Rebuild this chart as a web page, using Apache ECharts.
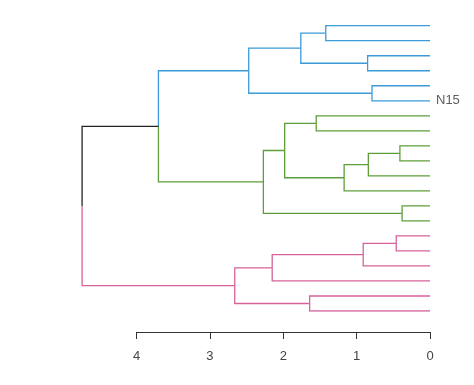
<!DOCTYPE html>
<html>
<head>
<meta charset="utf-8">
<script src="https://cdn.jsdelivr.net/npm/echarts@6/dist/echarts.min.js"></script>
<style>html,body{margin:0;padding:0;background:#fff}#c{width:474px;height:385px}</style>
</head>
<body>
<div id="c"></div>
<script>
// Leaf labels in display order (top to bottom)
var leafLabels = ["", "", "", "", "", "N15", "", "", "", "", "", "", "", "", "", "", "", "", "", ""];
// hclust-style merges: negative = leaf (1-based), positive = earlier merge row (1-based)
var mergeLeft  = [-13, -9, -15, -5, 2, -3, 3, 5, -1, -7, -19, 9, 10, 7, 13, 12, 14, 16, 18];
var mergeRight = [-14, -10, -16, -6, -11, -4, -17, -12, -2, -8, -20, 6, 8, -18, 1, 4, 11, 15, 17];
var mergeHeight = [0.38, 0.41, 0.46, 0.79, 0.84, 0.85, 0.91, 1.17, 1.42, 1.55, 1.64, 1.76, 1.98, 2.15, 2.27, 2.47, 2.66, 3.70, 4.74];
// cluster roots (merge rows) and their colours
var clusterRoots = [16, 15, 17];
var clusterColors = ["#3B9AD8", "#5E9E3A", "#D5629A"];
var axisTicks = [0, 1, 2, 3, 4];

var n = mergeHeight.length;
var pos = {};
function key(ref) { return ref < 0 ? "L" + (-ref) : "M" + ref; }
function info(ref) {
  if (ref < 0) return { x: 0, y: -ref - 1 };
  return pos["M" + ref];
}
for (var i = 0; i < n; i++) {
  var a = info(mergeLeft[i]), b = info(mergeRight[i]);
  pos["M" + (i + 1)] = { x: mergeHeight[i], y: (a.y + b.y) / 2 };
}
var colorOf = {};
function paint(ref, col) {
  colorOf[key(ref)] = col;
  if (ref > 0) { paint(mergeLeft[ref - 1], col); paint(mergeRight[ref - 1], col); }
}
clusterRoots.forEach(function (r, k) { paint(r, clusterColors[k]); });

var segs = [];
for (var i = 0; i < n; i++) {
  var p = pos["M" + (i + 1)];
  [mergeLeft[i], mergeRight[i]].forEach(function (c) {
    var ci = info(c);
    var col = colorOf[key(c)] || "#222222";
    segs.push({ coords: [[p.x, p.y], [p.x, ci.y], [ci.x, ci.y]], lineStyle: { color: col } });
  });
}
var leafPts = leafLabels.map(function (l, i) { return { value: [0, i], label: l }; });

var chart = echarts.init(document.getElementById('c'));
chart.setOption({
  animation: false,
  grid: [
    { left: 63, right: 44, top: 25.7, bottom: 74 },
    { left: 136.6, right: 44, top: 331, height: 1 }
  ],
  xAxis: [
    { gridIndex: 0, type: 'value', min: 0, max: 5, inverse: true, show: false },
    { gridIndex: 1, type: 'value', min: 0, max: 4, interval: 1, inverse: true, position: 'bottom',
      axisLine: { show: true, lineStyle: { color: '#333', width: 1 } },
      axisTick: { show: true, length: 7, lineStyle: { color: '#333', width: 1 } },
      axisLabel: { show: true, margin: 18, color: '#444', fontSize: 13, fontFamily: 'Liberation Sans, Arial, sans-serif',
        formatter: function (v) { return axisTicks.indexOf(v) >= 0 ? String(v) : ''; } },
      splitLine: { show: false } }
  ],
  yAxis: [
    { gridIndex: 0, type: 'value', min: 0, max: 19, inverse: true, show: false },
    { gridIndex: 1, type: 'value', min: 0, max: 1, show: false }
  ],
  series: [
    { type: 'lines', coordinateSystem: 'cartesian2d', xAxisIndex: 0, yAxisIndex: 0, polyline: true,
      lineStyle: { width: 1.3, opacity: 1 }, data: segs, silent: true },
    { type: 'scatter', xAxisIndex: 0, yAxisIndex: 0, symbolSize: 0, silent: true,
      data: leafPts,
      label: { show: true, position: 'right', distance: 6, color: '#333', fontSize: 13,
        fontFamily: 'Liberation Sans, Arial, sans-serif',
        formatter: function (p) { return p.data.label; } } }
  ]
});
</script>
</body>
</html>
